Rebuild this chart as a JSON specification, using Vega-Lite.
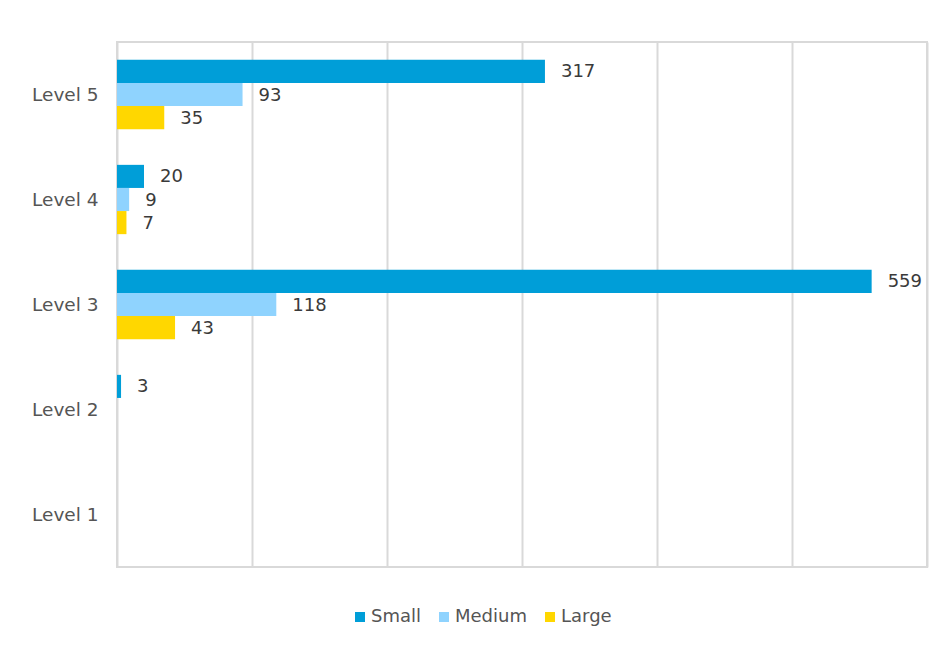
{
  "$schema": "https://vega.github.io/schema/vega-lite/v6.json",
  "width": 810,
  "height": 525,
  "autosize": "none",
  "padding": {"left": 117, "top": 42, "right": 17, "bottom": 78},
  "background": "white",
  "data": {
    "values": [
      {"level": "Level 5", "size": "Small", "count": 317},
      {"level": "Level 5", "size": "Medium", "count": 93},
      {"level": "Level 5", "size": "Large", "count": 35},
      {"level": "Level 4", "size": "Small", "count": 20},
      {"level": "Level 4", "size": "Medium", "count": 9},
      {"level": "Level 4", "size": "Large", "count": 7},
      {"level": "Level 3", "size": "Small", "count": 559},
      {"level": "Level 3", "size": "Medium", "count": 118},
      {"level": "Level 3", "size": "Large", "count": 43},
      {"level": "Level 2", "size": "Small", "count": 3}
    ]
  },
  "encoding": {
    "y": {
      "field": "level",
      "type": "nominal",
      "scale": {"domain": ["Level 5", "Level 4", "Level 3", "Level 2", "Level 1"], "paddingInner": 0.34, "paddingOuter": 0.17},
      "axis": {"title": null, "domain": false, "ticks": false, "labelPadding": 19, "labelFont": "DejaVu Sans", "labelFontSize": 18.5, "labelColor": "#555555"}
    },
    "yOffset": {
      "field": "size",
      "type": "nominal",
      "scale": {"domain": ["Small", "Medium", "Large"], "paddingInner": 0, "paddingOuter": 0}
    },
    "x": {
      "field": "count",
      "type": "quantitative",
      "scale": {"domain": [0, 600], "nice": false},
      "axis": {"title": null, "domain": false, "ticks": false, "labels": false, "values": [0, 100, 200, 300, 400, 500, 600], "grid": true, "gridColor": "#d9d9d9", "gridWidth": 2}
    }
  },
  "layer": [
    {
      "mark": {"type": "bar"},
      "encoding": {
        "color": {
          "field": "size",
          "type": "nominal",
          "scale": {"domain": ["Small", "Medium", "Large"], "range": ["#009ed8", "#8fd3fe", "#ffd700"]},
          "legend": {
            "title": null,
            "orient": "none",
            "direction": "horizontal",
            "legendX": 234,
            "legendY": 566,
            "symbolType": "square",
            "symbolSize": 100,
            "symbolStrokeWidth": 0,
            "labelFont": "DejaVu Sans",
            "labelFontSize": 18,
            "labelColor": "#555555",
            "labelOffset": 2,
            "columnPadding": 14
          }
        }
      }
    },
    {
      "mark": {"type": "text", "align": "left", "baseline": "middle", "dx": 16, "dy": 1, "font": "DejaVu Sans", "fontSize": 18, "color": "#3a3a3a"},
      "encoding": {"text": {"field": "count", "type": "quantitative"}}
    }
  ],
  "config": {
    "view": {"stroke": "#d9d9d9", "strokeWidth": 2}
  }
}
